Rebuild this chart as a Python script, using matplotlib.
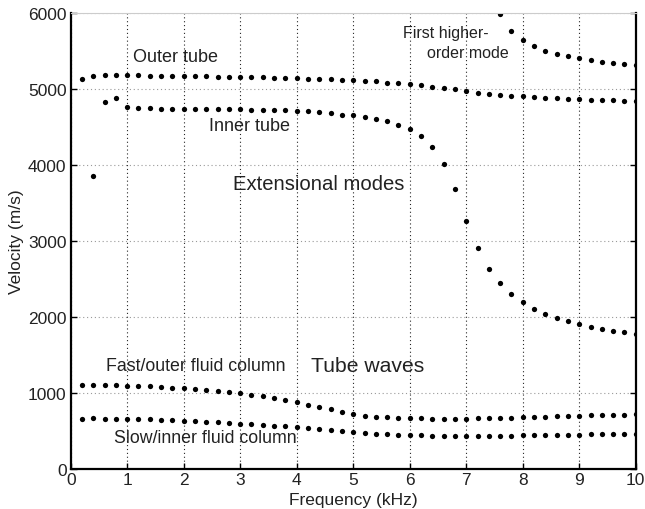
import matplotlib
matplotlib.use("Agg")
import matplotlib.pyplot as plt

plt.rcParams['font.family'] = ['Liberation Sans', 'DejaVu Sans']

freq = [0.2, 0.4, 0.6, 0.8, 1.0, 1.2, 1.4, 1.6, 1.8, 2.0,
        2.2, 2.4, 2.6, 2.8, 3.0, 3.2, 3.4, 3.6, 3.8, 4.0,
        4.2, 4.4, 4.6, 4.8, 5.0, 5.2, 5.4, 5.6, 5.8, 6.0,
        6.2, 6.4, 6.6, 6.8, 7.0, 7.2, 7.4, 7.6, 7.8, 8.0,
        8.2, 8.4, 8.6, 8.8, 9.0, 9.2, 9.4, 9.6, 9.8, 10.0]

outer_tube = [5130, 5175, 5184, 5184, 5180, 5178, 5176, 5175, 5172, 5170,
              5168, 5166, 5164, 5162, 5160, 5157, 5154, 5150, 5146, 5142,
              5138, 5134, 5128, 5123, 5118, 5110, 5100, 5085, 5075, 5062,
              5048, 5028, 5010, 4995, 4975, 4952, 4938, 4925, 4913, 4904,
              4890, 4882, 4877, 4872, 4867, 4862, 4857, 4852, 4846, 4840]

freq_inner = freq[1:]
inner_tube = [3855, 4825, 4877, 4758, 4750, 4745, 4742, 4740, 4738,
              4737, 4736, 4735, 4734, 4733, 4730, 4727, 4724, 4720, 4715,
              4705, 4693, 4680, 4662, 4654, 4632, 4605, 4575, 4530, 4470,
              4377, 4240, 4017, 3680, 3267, 2904, 2636, 2443, 2303, 2197,
              2109, 2043, 1987, 1943, 1904, 1872, 1842, 1820, 1798, 1776]

freq_higher = freq[37:]
higher_mode = [5990, 5767, 5649, 5566, 5504, 5465, 5430, 5404, 5377, 5359,
               5346, 5329, 5312]

fast_fluid = [1105, 1109, 1105, 1105, 1096, 1092, 1088, 1079, 1070, 1061,
              1053, 1044, 1031, 1018, 1000, 978, 956, 934, 908, 882,
              846, 816, 785, 752, 728, 701, 688, 680, 675, 667,
              665, 664, 664, 664, 664, 666, 668, 671, 675, 680,
              684, 688, 692, 697, 701, 706, 711, 713, 716, 724]

slow_fluid = [662, 665, 662, 660, 660, 658, 654, 650, 645, 636,
              632, 623, 614, 605, 596, 588, 579, 570, 561, 553,
              539, 530, 517, 502, 487, 478, 465, 461, 452, 447,
              443, 441, 441, 440, 440, 440, 440, 441, 441, 443,
              445, 447, 450, 452, 454, 456, 458, 461, 463, 465]

fig = plt.figure(figsize=(6.45, 5.1), dpi=100)
ax = fig.add_axes([0.1096, 0.0784, 0.8760, 0.8941])

mk = dict(linestyle='none', marker='o', color='black', markersize=3.8,
          markeredgewidth=0)
for xs, ys in [(freq, outer_tube), (freq_inner, inner_tube),
               (freq_higher, higher_mode), (freq, fast_fluid),
               (freq, slow_fluid)]:
    ax.plot(xs, ys, **mk)

ax.set_xlim(0, 10)
ax.set_ylim(0, 6000)
ax.set_xticks(range(0, 11))
ax.set_yticks(range(0, 6001, 1000))

ax.grid(True, axis='x', linestyle=(0, (1, 2.5)), color='0.15', linewidth=0.8)
ax.grid(True, axis='y', linestyle=(0, (1, 2.5)), color='0.6', linewidth=0.8)
ax.set_axisbelow(True)

for s in ['left', 'bottom', 'right']:
    ax.spines[s].set_linewidth(1.6)
    ax.spines[s].set_color('black')
ax.spines['top'].set_linewidth(0.8)
ax.spines['top'].set_color('0.8')

ax.tick_params(axis='both', labelsize=12.5, colors='black', labelcolor='#222222')
ax.tick_params(axis='y', direction='in', length=4, width=1, pad=3, right=True)
ax.tick_params(axis='x', direction='in', length=4, width=1, pad=2)

ax.set_xlabel('Frequency (kHz)', fontsize=12.5, color='#222222', labelpad=4)
ax.set_ylabel('Velocity (m/s)', fontsize=12.5, color='#222222', labelpad=3)

tk = dict(color='#222222', ha='left', va='center')
ax.text(1.1, 5434, 'Outer tube', fontsize=13, **tk)
ax.text(2.45, 4517, 'Inner tube', fontsize=13, **tk)
ax.text(2.87, 3763, 'Extensional modes', fontsize=14.6, **tk)
ax.text(5.88, 5750, 'First higher-', fontsize=11.5, **tk)
ax.text(6.3, 5487, 'order mode', fontsize=11.5, **tk)
ax.text(0.62, 1359, 'Fast/outer fluid column', fontsize=12.8, **tk)
ax.text(4.26, 1368, 'Tube waves', fontsize=15.2, **tk)
ax.text(0.77, 417, 'Slow/inner fluid column', fontsize=12.8, **tk)

fig.savefig('out.png', dpi=100)
